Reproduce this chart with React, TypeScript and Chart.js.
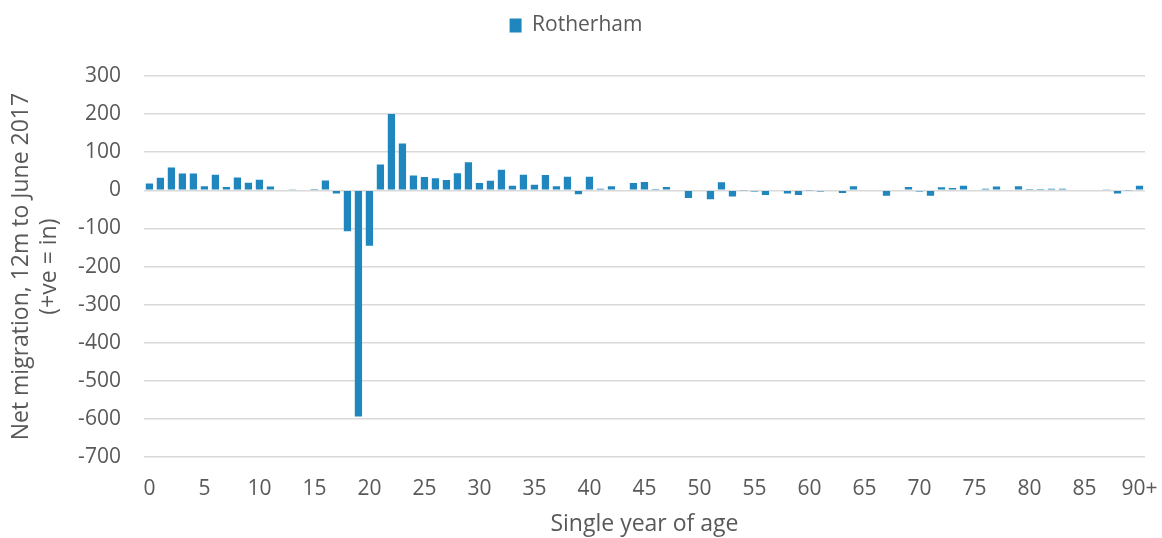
import React, { useEffect, useRef } from "react";
import { Chart, registerables } from "chart.js";

Chart.register(...registerables);

const ages: string[] = Array.from({ length: 91 }, (_, i) => (i === 90 ? "90+" : String(i)));

const rotherham: number[] = [
  18, 33, 60, 44, 44, 11, 41, 9, 34, 20,
  28, 10, 0, 3, 0, 1, 26, -8, -107, -593,
  -145, 68, 200, 123, 39, 35, 32, 27, 45, 74,
  19, 25, 54, 12, 41, 15, 40, 11, 36, -10,
  36, 4, 11, 0, 19, 22, 1, 9, 0, -20,
  0, -23, 21, -16, -1, -3, -12, 0, -8, -12,
  -1, -3, 0, -7, 11, -2, 0, -14, 0, 9,
  -3, -14, 8, 6, 12, 0, 4, 10, 0, 11,
  1, 1, 4, 4, 0, 0, 0, 3, -8, -1, 12,
];

const seriesName = "Rotherham";
const yTitle = ["Net migration, 12m to June 2017", "(+ve = in)"];
const xTitle = "Single year of age";

const legendSpace = {
  id: "legendSpace",
  beforeInit(chart: any) {
    const orig = chart.legend.fit;
    chart.legend.fit = function () {
      orig.call(this);
      this.height = 71;
    };
  },
};

export default function App() {
  const ref = useRef<HTMLCanvasElement>(null);
  useEffect(() => {
    document.body.style.margin = "0";
    const font = "'Open Sans', 'Noto Sans', sans-serif";
    const chart = new Chart(ref.current!, {
      type: "bar",
      data: {
        labels: ages,
        datasets: [
          {
            label: seriesName,
            data: rotherham,
            backgroundColor: "#1f87be",
            borderWidth: 0,
            barPercentage: 0.66,
            categoryPercentage: 1,
          },
        ],
      },
      plugins: [legendSpace],
      options: {
        animation: false,
        responsive: false,
        maintainAspectRatio: false,
        layout: { padding: { left: 7, right: 17, top: 5, bottom: 0 } },
        plugins: {
          legend: {
            position: "top",
            labels: {
              color: "#595959",
              font: { family: font, size: 21 },
              boxWidth: 12,
              boxHeight: 14,
              padding: 10,
            },
          },
          tooltip: { enabled: false },
        },
        scales: {
          x: {
            grid: { display: false, drawTicks: true, tickLength: 19 },
            border: { display: false },
            ticks: {
              autoSkip: false,
              maxRotation: 0,
              color: "#595959",
              font: { family: font, size: 21 },
              padding: 0,
              callback: (_v: any, i: number) => (i % 5 === 0 ? ages[i] : ""),
            },
            title: {
              display: true,
              text: xTitle,
              color: "#595959",
              font: { family: font, size: 23 },
              padding: { top: 9, bottom: 0 },
            },
          },
          y: {
            min: -700,
            max: 300,
            ticks: {
              stepSize: 100,
              color: "#595959",
              font: { family: font, size: 21 },
              padding: 23,
            },
            grid: { color: "#d9d9d9", lineWidth: 1.5, drawTicks: false },
            border: { display: false },
            title: {
              display: true,
              text: yTitle,
              color: "#595959",
              font: { family: font, size: 23, lineHeight: 1.22 },
              padding: { top: 0, bottom: -8 },
            },
          },
        },
      },
    });
    return () => chart.destroy();
  }, []);
  return (
    <div style={{ width: 1162, height: 538 }}>
      <canvas ref={ref} width={1162} height={538} />
    </div>
  );
}
